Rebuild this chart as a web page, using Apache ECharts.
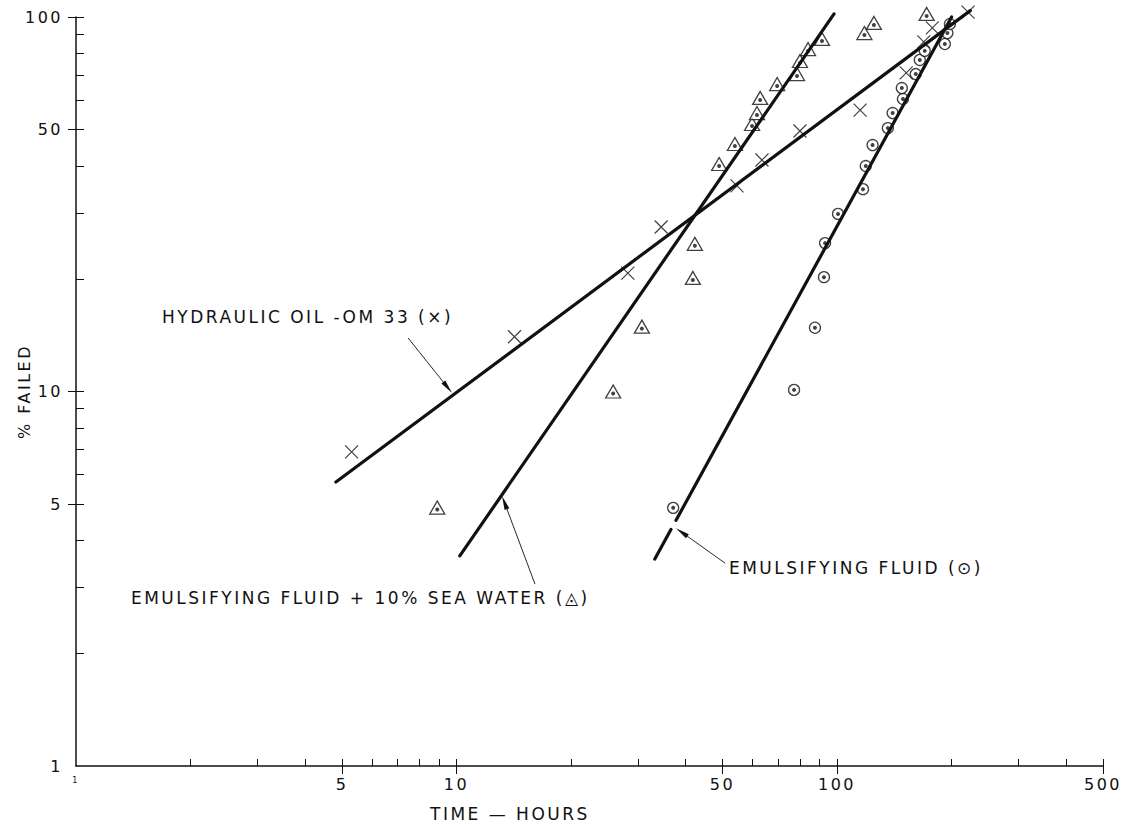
<!DOCTYPE html>
<html>
<head>
<meta charset="utf-8">
<script src="https://cdn.jsdelivr.net/npm/echarts@6/dist/echarts.min.js"></script>
<style>
  html, body { margin: 0; padding: 0; background: #fff; }
  #chart { width: 1122px; height: 824px; letter-spacing: 2.5px; }
</style>
</head>
<body>
<div id="chart"></div>
<script>
// axis ticks and labels (log scales)
const xMinorTicks = [2, 3, 4, 6, 7, 8, 9, 20, 30, 40, 60, 70, 80, 90, 200, 300, 400];
const xMajorTicks = [5, 10, 50, 100, 500];
const xLabels = [1, 5, 10, 50, 100, 500];
const yMinorTicks = [2, 3, 4, 6, 7, 8, 9, 20, 30, 40, 60, 70, 80, 90];
const yMajorTicks = [5, 10, 50, 100];
const yLabels = [1, 5, 10, 50, 100];

// hydraulic oil OM 33  (x)  [hours, % failed]
const oilPoints = [[5.3, 6.9], [14.2, 14.0], [28.2, 20.7], [34.5, 27.5], [54.6, 35.4], [63.5, 41.5],
  [79.9, 49.6], [115, 56.4], [152, 70.9], [169, 85.8], [178, 93.5], [221, 103]];
const oilFit = [[4.82, 5.73], [224, 104]];

// emulsifying fluid + 10% sea water  (triangle)
const seaPoints = [[8.9, 4.9], [25.8, 10.0], [30.7, 14.9], [41.8, 20.1], [42.3, 24.8], [49.0, 40.5],
  [53.9, 45.8], [59.8, 51.8], [61.6, 55.4], [62.8, 60.8], [69.6, 66.2], [78.5, 70.4], [79.9, 76.3],
  [83.9, 82.1], [91.3, 87.4], [118, 90.6], [125, 96.4], [172, 101.9]];
const seaFit = [[10.2, 3.64], [98.2, 101.9]];

// emulsifying fluid  (circle) - the drawn line has a small break near 5 %
const emulPoints = [[37.1, 4.89], [77.1, 10.1], [87.5, 14.8], [92.4, 20.2], [93.0, 24.9], [100.6, 29.8],
  [117, 34.7], [119, 40.0], [124, 45.5], [136, 50.5], [140, 55.4], [149, 60.4], [148, 64.6],
  [161, 70.4], [165, 76.8], [170, 81.2], [192, 84.7], [195, 90.6], [198, 95.8]];
const emulFit = [[33.2, 3.57], [36.6, 4.28], [37.2, '-'], [37.75, 4.53], [200, 100]];

const FONT = 'DejaVu Sans';
const INK = '#111';

// callouts: text anchor and arrow (tail -> head), in data coords
const notes = [
  { text: 'HYDRAULIC OIL -OM 33 (×)', at: [1.683, 15.8], arrow: [[7.46, 13.9], [9.48, 10.25]] },
  { text: 'EMULSIFYING FLUID + 10% SEA WATER (◬)', at: [1.394, 2.81], arrow: [[16.08, 3.06], [13.37, 5.05]] },
  { text: 'EMULSIFYING FLUID (⊙)', at: [52.0, 3.38], arrow: [[50.8, 3.48], [39.07, 4.21]] }
];

const chart = echarts.init(document.getElementById('chart'), null, { renderer: 'svg' });

function logAxis(min, max, extra) {
  return Object.assign({
    type: 'log', logBase: 10, min, max,
    splitLine: { show: false },
    minorTick: { show: false },
    axisLine: { onZero: false, lineStyle: { color: INK, width: 1.5 } }
  }, extra);
}

const axisLabelStyle = { fontFamily: FONT, fontSize: 16, color: INK };

function fitLine(data, noteIdx) {
  const n = notes[noteIdx];
  return {
    type: 'line', data, z: 5, clip: false, silent: true,
    symbol: 'none', connectNulls: false,
    lineStyle: { color: INK, width: 3.2, cap: 'round' },
    markLine: {
      silent: true, animation: false,
      symbol: ['none', 'triangle'],
      lineStyle: { color: INK, width: 0.9, type: 'solid' },
      label: { show: false },
      emphasis: { disabled: true },
      data: [[{ coord: n.arrow[0], symbol: 'none' }, { coord: n.arrow[1], symbolSize: [5, 14] }]]
    },
    markPoint: {
      silent: true, animation: false,
      symbol: 'circle', symbolSize: 0,
      itemStyle: { color: 'transparent' },
      label: {
        show: true, position: 'right', distance: 0,
        fontFamily: FONT, fontSize: 17, color: INK,
        formatter: () => n.text
      },
      data: [{ coord: n.at, value: 0 }]
    }
  };
}

function markers(data, symbol, size, withDot, dotOffset) {
  const out = [{
    type: 'scatter', data, symbol, symbolSize: size, clip: false, silent: true, z: 3,
    itemStyle: symbol.startsWith('path')
      ? { color: 'transparent', borderColor: INK, borderWidth: 1.2 }
      : { color: '#fff', borderColor: INK, borderWidth: 1.3 }
  }];
  if (withDot) {
    out.push({
      type: 'scatter', data, symbol: 'circle', symbolSize: 4, symbolOffset: dotOffset,
      clip: false, silent: true, z: 4, itemStyle: { color: INK }
    });
  }
  return out;
}

chart.setOption({
  animation: false,
  backgroundColor: '#fff',
  title: {
    text: 'TIME — HOURS', left: 425, top: 800,
    textStyle: { fontFamily: FONT, fontSize: 17, fontWeight: 'normal', color: INK }
  },
  grid: { left: 76, right: 19, top: 17, bottom: 58, containLabel: false },
  xAxis: [
    logAxis(1, 500, {
      position: 'bottom',
      axisTick: { inside: true, length: 7, customValues: xMinorTicks.concat(xMajorTicks), lineStyle: { color: INK } },
      axisLabel: {
        margin: 10, ...axisLabelStyle, customValues: xLabels,
        formatter: v => (Math.round(v) === 1 ? '{s|1}' : String(Math.round(v))),
        rich: { s: { fontFamily: FONT, fontSize: 8, color: INK } }
      }
    }),
    logAxis(1, 500, {
      position: 'bottom',
      axisLine: { show: false, onZero: false },
      axisTick: { inside: false, length: 8, customValues: xMajorTicks, lineStyle: { color: INK } },
      axisLabel: { show: false }
    })
  ],
  yAxis: [
    logAxis(1, 100, {
      position: 'left',
      name: '% FAILED', nameLocation: 'middle', nameGap: 44, nameMoveOverlap: false,
      nameTextStyle: { fontFamily: FONT, fontSize: 16, color: INK },
      axisTick: { inside: true, length: 8, customValues: yMinorTicks.concat(yMajorTicks), lineStyle: { color: INK } },
      axisLabel: { margin: 13, ...axisLabelStyle, customValues: yLabels, formatter: v => String(Math.round(v)) }
    }),
    logAxis(1, 100, {
      position: 'left',
      axisLine: { show: false, onZero: false },
      axisTick: { inside: false, length: 8, customValues: yMajorTicks, lineStyle: { color: INK } },
      axisLabel: { show: false }
    })
  ],
  series: [
    ...markers(oilPoints, 'path://M0,0L10,10M10,0L0,10', 13, false),
    ...markers(seaPoints, 'triangle', [15, 13], true, [0, 2]),
    ...markers(emulPoints, 'circle', 11, true, [0, 0]),
    fitLine(oilFit, 0),
    fitLine(seaFit, 1),
    fitLine(emulFit, 2)
  ]
});
</script>
</body>
</html>
